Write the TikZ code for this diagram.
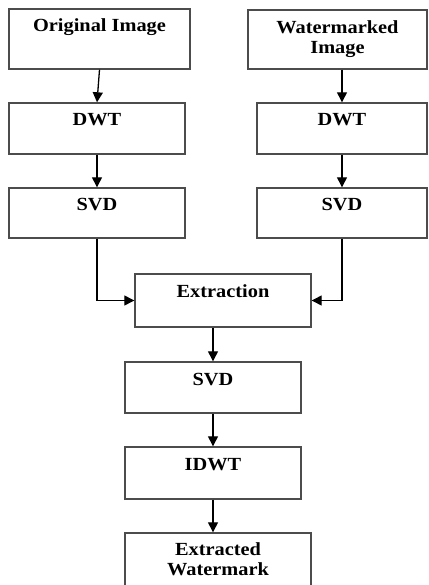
\documentclass[tikz,border=0pt]{standalone}
\usepackage{fontspec}
\setmainfont[FakeStretch=1.1]{Liberation Serif}
\usetikzlibrary{arrows.meta}

\begin{document}
\begin{tikzpicture}[x=1pt,y=-1pt,
    box/.style={draw=black!70, line width=1.4pt, align=center, inner xsep=0pt,
      font=\bfseries\fontsize{18.5}{20}\selectfont},
    oneline/.style={box, text height=13.5pt, inner ysep=9.5pt},
    twoline/.style={box, inner ysep=0pt},
    arr/.style={-{Triangle[length=10pt,width=10pt]}, line width=1.3pt}]
            \useasboundingbox (0,0) rectangle (428,585);
            % left column
            \node [oneline, minimum width=181pt, text depth=27.5pt] (orig) at (99.5,39) {Original Image};
            \node [oneline, minimum width=176pt, text depth=18.5pt] (dwtA) at (97,128.5) {DWT};
            \node [oneline, minimum width=176pt, text depth=17.5pt] (svdA) at (97,213) {SVD};
            % right column
            \node [twoline, minimum width=179pt, minimum height=59pt] (wmimg) at (337.5,39.5) {Watermarked\\Image};
            \node [oneline, minimum width=170pt, text depth=18.5pt] (dwtB) at (342,128.5) {DWT};
            \node [oneline, minimum width=170pt, text depth=17.5pt] (svdB) at (342,213) {SVD};
            % middle
            \node [oneline, minimum width=176pt, text depth=20.5pt] (extr) at (223,300.5) {Extraction};
            \node [oneline, minimum width=176pt, text depth=18.5pt] (svdC) at (213,387.5) {SVD};
            \node [oneline, minimum width=176pt, text depth=19.5pt] (idwt) at (213,473) {IDWT};
            \node [twoline, minimum width=186pt, minimum height=53pt] (wmext) at (218,559.5) {Extracted\\Watermark};
            % arrows
            \draw [arr] (orig.south) -- (dwtA.north);
            \draw [arr] (dwtA.south) -- (svdA.north);
            \draw [arr] (wmimg.south -| dwtB.north) -- (dwtB.north);
            \draw [arr] (dwtB.south) -- (svdB.north);
            \draw [arr] (svdA.south) |- (extr.west);
            \draw [arr] (svdB.south) |- (extr.east);
            \draw [arr] (extr.south -| svdC.north) -- (svdC.north);
            \draw [arr] (svdC.south) -- (idwt.north);
            \draw [arr] (idwt.south) -- (idwt.south |- wmext.north);
\end{tikzpicture}
\end{document}
